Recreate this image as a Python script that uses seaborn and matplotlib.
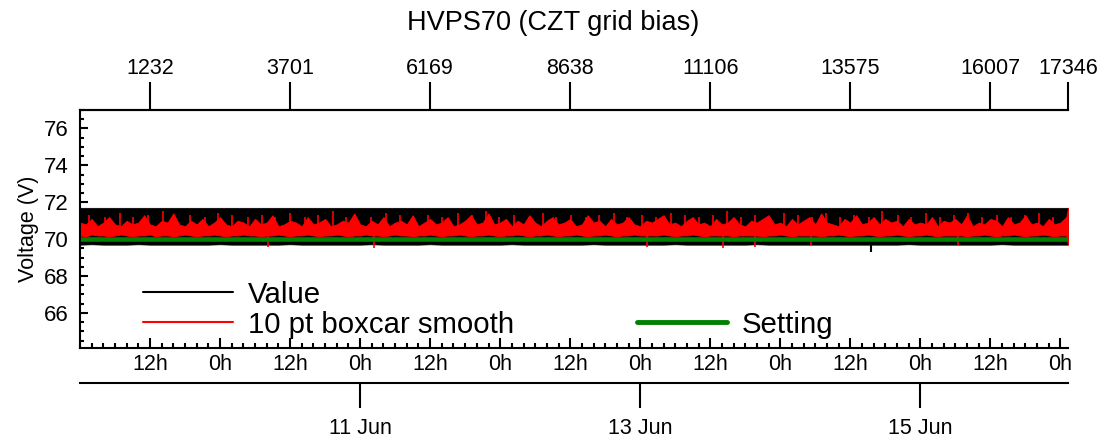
import matplotlib
matplotlib.use("Agg")
import matplotlib.pyplot as plt
from matplotlib.lines import Line2D
from matplotlib.ticker import MultipleLocator
import pandas as pd
import seaborn as sns

# Tempo em horas desde 9 Jun 00:00
t_end = 169.3

# Envelope (min/max) do valor medido, a cada 2 h
value_hours = list(range(0, 169, 2)) + [t_end]
value_hi = [
    71.7, 71.7, 71.7, 71.7, 71.7, 71.7, 71.7, 71.7, 71.7, 71.7,
    71.7, 71.7, 71.7, 71.7, 71.7, 71.7, 71.7, 71.7, 71.7, 71.7,
    71.7, 71.7, 71.7, 71.7, 71.7, 71.7, 71.7, 71.7, 71.7, 71.7,
    71.7, 71.7, 71.7, 71.7, 71.7, 71.7, 71.7, 71.7, 71.7, 71.7,
    71.7, 71.7, 71.7, 71.7, 71.7, 71.7, 71.7, 71.7, 71.7, 71.7,
    71.7, 71.7, 71.7, 71.7, 71.7, 71.7, 71.7, 71.7, 71.7, 71.7,
    71.7, 71.7, 71.7, 71.7, 71.7, 71.7, 71.7, 71.7, 71.7, 71.7,
    71.7, 71.7, 71.7, 71.7, 71.7, 71.7, 71.7, 71.7, 71.7, 71.7,
    71.7, 71.7, 71.7, 71.7, 71.7, 71.7,
]
value_lo = [
    69.7, 69.72, 69.7, 69.7, 69.7, 69.72, 69.7, 69.7, 69.7, 69.7,
    69.7, 69.7, 69.72, 69.7, 69.7, 69.7, 69.7, 69.7, 69.72, 69.7,
    69.7, 69.7, 69.7, 69.7, 69.7, 69.72, 69.7, 69.7, 69.7, 69.7,
    69.72, 69.7, 69.7, 69.7, 69.7, 69.7, 69.7, 69.72, 69.7, 69.7,
    69.7, 69.7, 69.7, 69.7, 69.72, 69.7, 69.7, 69.7, 69.7, 69.7,
    69.7, 69.72, 69.7, 69.7, 69.7, 69.7, 69.7, 69.7, 69.72, 69.7,
    69.7, 69.7, 69.7, 69.7, 69.7, 69.7, 69.7, 69.7, 69.7, 69.7,
    69.7, 69.72, 69.7, 69.7, 69.7, 69.7, 69.7, 69.7, 69.7, 69.72,
    69.7, 69.7, 69.7, 69.7, 69.7, 69.7,
]
# pico isolado do valor (para baixo)
value_dip_hours = [135.6]
value_dip_low = [69.3]

# Envelope da media boxcar de 10 pontos, por hora
smooth_hours = list(range(0, 170)) + [t_end]
smooth_hi = [
    70.9, 70.8, 71.1, 70.7, 70.9, 71.2, 70.8, 70.7, 71.0, 70.8,
    70.9, 71.3, 70.8, 70.7, 71.0, 70.9, 71.4, 70.8, 70.7, 71.0,
    70.8, 71.1, 70.7, 70.9, 71.2, 70.8, 70.7, 71.0, 70.9, 70.7,
    71.1, 70.8, 70.9, 71.3, 70.7, 70.8, 71.0, 70.9, 70.7, 71.2,
    70.8, 70.9, 71.1, 70.7, 70.8, 71.0, 70.9, 71.4, 70.8, 70.7,
    71.0, 70.8, 71.2, 70.7, 70.9, 71.0, 70.8, 71.3, 70.7, 70.9,
    71.1, 70.8, 70.9, 71.2, 70.7, 70.8, 71.0, 71.3, 70.8, 70.9,
    71.4, 70.8, 70.9, 71.1, 70.7, 71.0, 70.8, 71.3, 70.9, 70.7,
    71.0, 71.2, 70.8, 70.9, 71.1, 70.7, 70.8, 71.3, 70.9, 71.0,
    70.7, 71.1, 70.8, 70.9, 71.2, 70.8, 70.7, 71.0, 70.9, 71.1,
    71.3, 70.8, 70.9, 70.7, 71.0, 71.2, 70.8, 70.9, 70.7, 71.1,
    70.8, 70.9, 71.2, 70.8, 70.7, 71.0, 70.9, 71.1, 71.3, 70.8,
    70.9, 70.7, 71.1, 70.8, 71.0, 71.2, 70.8, 71.4, 70.9, 70.8,
    70.7, 71.1, 70.9, 71.3, 70.8, 70.9, 71.2, 70.8, 71.1, 70.9,
    71.0, 70.7, 71.1, 70.8, 70.9, 70.8, 71.2, 70.7, 71.0, 70.9,
    71.1, 70.8, 71.3, 70.7, 70.9, 70.8, 71.1, 71.0, 70.7, 71.2,
    70.8, 70.9, 71.3, 70.8, 70.9, 70.7, 71.1, 70.8, 70.9, 71.2,
    71.7,
]
smooth_lo = [
    70.2, 70.15, 70.25, 70.2, 70.2, 70.15, 70.2, 70.25, 70.2, 70.15,
    70.2, 70.2, 70.25, 70.15, 70.2, 70.2, 70.15, 70.2, 70.25, 70.2,
    70.15, 70.2, 70.2, 70.25, 70.2, 70.15, 70.2, 70.2, 70.25, 70.2,
    70.2, 70.15, 70.2, 70.2, 70.25, 70.2, 70.15, 70.2, 70.2, 70.25,
    70.2, 70.15, 70.2, 70.2, 70.25, 70.2, 70.15, 70.2, 70.2, 70.25,
    70.2, 70.2, 70.15, 70.2, 70.25, 70.2, 70.2, 70.15, 70.2, 70.2,
    70.25, 70.2, 70.15, 70.2, 70.2, 70.25, 70.2, 70.15, 70.2, 70.2,
    70.25, 70.2, 70.15, 70.2, 70.2, 70.25, 70.2, 70.15, 70.2, 70.2,
    70.25, 70.2, 70.15, 70.2, 70.2, 70.25, 70.2, 70.15, 70.2, 70.2,
    70.25, 70.2, 70.15, 70.2, 70.2, 70.25, 70.2, 70.2, 70.2, 70.2,
    70.25, 70.2, 70.15, 70.2, 70.2, 70.25, 70.2, 70.15, 70.2, 70.2,
    70.2, 70.2, 70.15, 70.2, 70.2, 70.2, 70.2, 70.15, 70.2, 70.2,
    70.25, 70.2, 70.15, 70.2, 70.2, 70.2, 70.2, 70.15, 70.2, 70.2,
    70.25, 70.2, 70.15, 70.2, 70.2, 70.25, 70.2, 70.15, 70.2, 70.2,
    70.25, 70.2, 70.15, 70.2, 70.2, 70.25, 70.2, 70.15, 70.2, 70.2,
    70.2, 70.2, 70.15, 70.2, 70.2, 70.25, 70.2, 70.15, 70.2, 70.2,
    70.25, 70.2, 70.15, 70.2, 70.2, 70.25, 70.2, 70.15, 70.2, 70.2,
    69.7,
]
# picos finos da media (para cima e para baixo)
spike_hours = [
    1.5, 4.2, 6.8, 9.1, 11.6, 14.3, 16.2, 18.9, 21.4, 23.7,
    26.1, 28.8, 31.2, 33.4, 35.9, 38.5, 40.7, 43.3, 45.6, 47.2,
    49.8, 52.5, 54.9, 57.3, 59.6, 62.1, 64.8, 67.2, 69.5, 71.8,
    74.4, 76.9, 79.3, 81.6, 84.2, 86.7, 88.9, 91.5, 93.8, 96.3,
    98.7, 101.2, 103.6, 106.1, 108.4, 110.9, 113.3, 115.7, 118.2, 120.6,
    123.1, 125.4, 127.8, 130.3, 132.7, 135.2, 137.5, 140.1, 142.4, 144.9,
    147.3, 149.8, 152.2, 154.6, 157.1, 159.5, 161.9, 164.4, 166.8,
]
spike_top = [
    71.3, 71.2, 71.4, 71.2, 71.3, 71.5, 71.2, 71.3, 71.2, 71.4,
    71.3, 71.2, 71.3, 71.2, 71.4, 71.2, 71.3, 71.5, 71.2, 71.3,
    71.2, 71.4, 71.3, 71.2, 71.3, 71.2, 71.4, 71.3, 71.5, 71.2,
    71.3, 71.2, 71.4, 71.2, 71.3, 71.2, 71.3, 71.4, 71.2, 71.3,
    71.2, 71.4, 71.3, 71.2, 71.3, 71.5, 71.2, 71.3, 71.2, 71.4,
    71.3, 71.2, 71.4, 71.2, 71.3, 71.2, 71.5, 71.3, 71.2, 71.4,
    71.2, 71.3, 71.4, 71.2, 71.3, 71.2, 71.3, 71.4, 71.2,
]
dip_hours = [32.3, 50.4, 97.1, 110.2, 115.6, 125.3, 150.4]
dip_low = [69.6, 69.5, 69.6, 69.5, 69.6, 69.7, 69.7]

# Valor de referencia (setting)
setting_hours = [0, t_end]
setting = [70.0, 70.0]

# Rotulos dos eixos
hour_ticks = [12, 24, 36, 48, 60, 72, 84, 96, 108, 120, 132, 144, 156, 168]
hour_labels = ["12h", "0h", "12h", "0h", "12h", "0h", "12h",
               "0h", "12h", "0h", "12h", "0h", "12h", "0h"]
index_ticks = [12, 36, 60, 84, 108, 132, 156, t_end]
index_labels = ["1232", "3701", "6169", "8638", "11106", "13575", "16007", "17346"]
date_ticks = [48, 96, 144]
date_labels = ["11 Jun", "13 Jun", "15 Jun"]

sns.set_style("ticks", {
    "axes.edgecolor": "black", "text.color": "black", "axes.labelcolor": "black",
    "xtick.color": "black", "ytick.color": "black",
})
plt.rcParams["font.family"] = ["Liberation Sans", "DejaVu Sans"]

fig = plt.figure(figsize=(11.06, 4.4), dpi=100)
ax = fig.add_axes([80 / 1106, 92 / 440, 988 / 1106, 238 / 440])

# Valor medido (faixa preta)
ax.fill_between(value_hours, value_lo, value_hi, color="black", linewidth=0.5)
ax.vlines(value_dip_hours, 69.7, value_dip_low, color="black", linewidth=1.5)
# Media boxcar (vermelho)
ax.fill_between(smooth_hours, smooth_lo, smooth_hi, color="red", linewidth=0.6)
ax.vlines(spike_hours, 70.6, spike_top, color="red", linewidth=1.2)
ax.vlines(dip_hours, 70.2, dip_low, color="red", linewidth=1.2)
# Setting (verde)
df_set = pd.DataFrame({"hora": setting_hours, "setting": setting})
sns.lineplot(x="hora", y="setting", data=df_set, ax=ax, color="#008000",
             linewidth=3.3, legend=False)

ax.set_xlim(0, t_end)
ax.set_ylim(64.1, 77.0)
ax.set_xlabel("")
ax.set_ylabel("Voltage (V)", fontsize=15.5)
ax.yaxis.set_label_coords(-0.042, 0.5)

ax.set_xticks(hour_ticks)
ax.set_xticklabels(hour_labels)
ax.xaxis.set_minor_locator(MultipleLocator(2))
ax.yaxis.set_major_locator(MultipleLocator(2))
ax.yaxis.set_minor_locator(MultipleLocator(0.5))
ax.tick_params(axis="x", which="major", direction="in", length=7, width=1.5,
               labelsize=15.5, pad=4, top=False)
ax.tick_params(axis="x", which="minor", direction="in", length=3.5, width=1.5, top=False)
ax.tick_params(axis="y", which="major", direction="in", length=6, width=1.5,
               labelsize=16, pad=8.5, right=False)
ax.tick_params(axis="y", which="minor", direction="in", length=3, width=1.5, right=False)

ax.spines["right"].set_visible(False)
for s in ["left", "top", "bottom"]:
    ax.spines[s].set_linewidth(1.5)

# Eixo superior: indice da amostra
top = ax.secondary_xaxis("top")
top.set_xticks(index_ticks, labels=index_labels)
top.tick_params(direction="out", length=20, width=1.5, labelsize=15.5, pad=2)
top.spines["top"].set_linewidth(1.5)

# Eixo de datas abaixo
dax = ax.secondary_xaxis(-0.147)
dax.set_xticks(date_ticks, labels=date_labels)
dax.tick_params(direction="out", length=18, width=1.5, labelsize=15.5, pad=7)
dax.spines["bottom"].set_linewidth(1.5)
dax.spines["top"].set_linewidth(1.5)

# Legenda
handles = [
    Line2D([], [], color="black", linewidth=1.5),
    Line2D([], [], color="red", linewidth=1.5),
    Line2D([], [], color="none"),
    Line2D([], [], color="#008000", linewidth=3.5),
]
labels = ["Value", "10 pt boxcar smooth", "", "Setting"]
ax.legend(handles, labels, ncol=2, loc="upper left", bbox_to_anchor=(0.0638, 0.283),
          frameon=False, fontsize=21.2, handlelength=3.06, handletextpad=0.5,
          columnspacing=4.17, labelspacing=0.07, borderpad=0, borderaxespad=0)

# Titulo
fig.text(0.5, 0.947, "HVPS70 (CZT grid bias)", ha="center", va="center", fontsize=19.5)

plt.savefig("out.png", dpi=100)
